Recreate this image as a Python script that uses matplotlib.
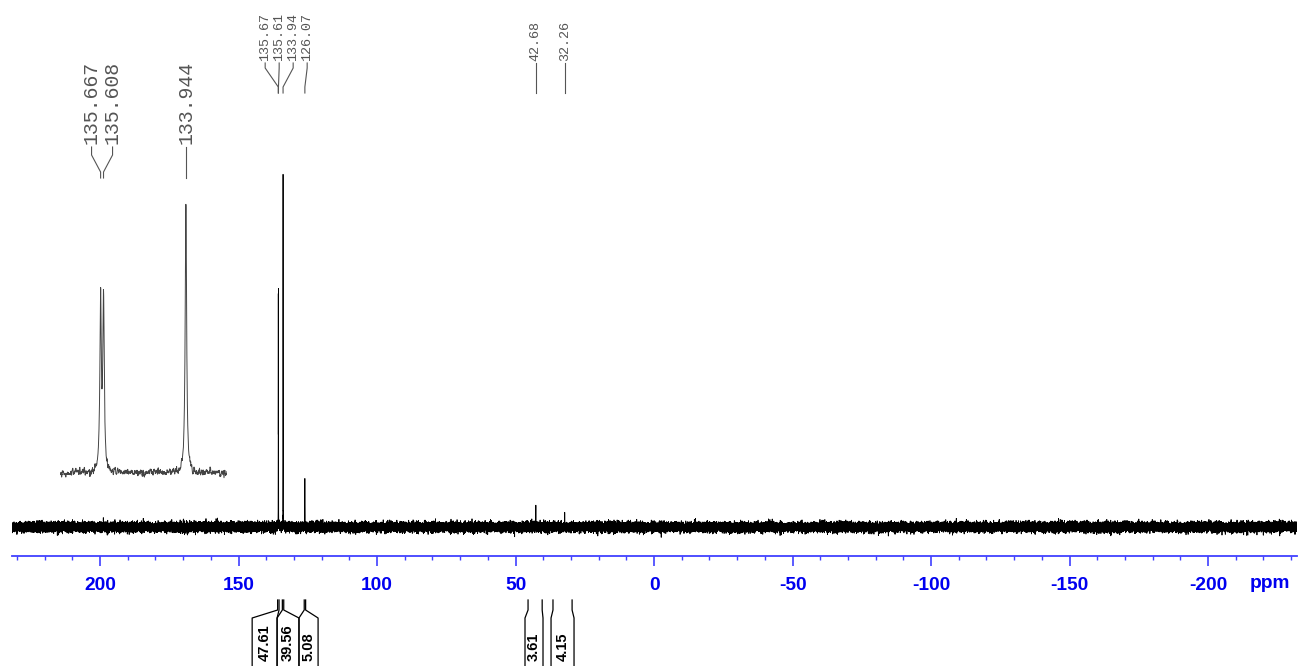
import numpy as np
import matplotlib.pyplot as plt
from matplotlib.ticker import MultipleLocator

plt.rcParams['axes.unicode_minus'] = False

# Пики: положение (ppm) и относительная интенсивность
peak_ppm = [135.667, 135.608, 133.944, 126.07, 42.68, 32.26]
peak_int = [0.63, 0.63, 1.0, 0.145, 0.056, 0.048]
peak_fwhm = 0.03

# Подписи пиков
top_ppm = [135.667, 135.608, 133.944, 126.07]
top_labels = ['135.67', '135.61', '133.94', '126.07']
side_ppm = [42.68, 32.26]
side_labels = ['42.68', '32.26']
doublet_ppm = [135.667, 135.608]
doublet_labels = ['135.667', '135.608']
single_ppm = [133.944]
single_labels = ['133.944']

# Интегралы (области в ppm)
int_labels = ['47.61', '39.56', '5.08', '3.61', '4.15']
int_regions = [(135.9, 135.4), (134.2, 133.7), (126.3, 125.8), (45.5, 40.4), (36.5, 29.6)]
int_boxes = [(145.1, 136.1), (136.1, 128.2), (128.2, 121.3), (46.6, 40.1), (37.2, 28.9)]

# Оси
tick_vals = [200, 150, 100, 50, 0, -50, -100, -150, -200]
x_left, x_right = 231.8, -232.1
inset_left, inset_right = 136.487, 133.114

W, H = 1301, 666
blue_line = '#4040ff'
blue_text = '#0000f0'
gray = '#555555'


def lorentz(x, x0, w):
    return 1.0 / (1.0 + ((x - x0) / (w / 2)) ** 2)


rng = np.random.default_rng(7)

# Основной спектр
x = np.linspace(x_left, x_right, 65536)
spec = sum(h * lorentz(x, p, peak_fwhm) for p, h in zip(peak_ppm, peak_int))
y = spec * 354 + rng.normal(0, 2.3, x.size)

fig = plt.figure(figsize=(W / 100, H / 100), dpi=100)
fig.patch.set_facecolor('white')

ax = fig.add_axes([12 / W, 1 - 555.5 / H, (1297 - 12) / W, 555.5 / H])
ax.plot(x, y, color='black', linewidth=0.6)
ax.set_xlim(x_left, x_right)
ax.set_ylim(-28.5, 527)
for s in ['top', 'left', 'right']:
    ax.spines[s].set_visible(False)
ax.spines['bottom'].set_color(blue_line)
ax.spines['bottom'].set_linewidth(1.3)
ax.set_yticks([])
ax.set_xticks(tick_vals)
ax.set_xticklabels([str(v) for v in tick_vals], fontweight='bold',
                   family='Liberation Sans')
ax.xaxis.set_minor_locator(MultipleLocator(10))
ax.tick_params(axis='x', which='major', length=7.5, width=1.2, color=blue_line,
               pad=8, labelsize=13.8, labelcolor=blue_text)
ax.tick_params(axis='x', which='minor', length=3, width=1.0, color=blue_line)

# Вставка (увеличенный участок)
xi = np.arange(inset_left, inset_right, -0.0025)
noise_i = np.convolve(rng.normal(0, 4.0, xi.size), np.ones(6) / 6, mode='same')
spec_i = sum(h * lorentz(xi, p, 0.034) for p, h in zip(peak_ppm, peak_int))
yi = spec_i * 272 + noise_i

ins = fig.add_axes([60 / W, 1 - 490 / H, (227 - 60) / W, (490 - 180) / H])
ins.plot(xi, yi, color='#444444', linewidth=0.7)
ins.set_xlim(inset_left, inset_right)
ins.set_ylim(-17, 293)
ins.axis('off')

# Слой для подписей в пикселях
ov = fig.add_axes([0, 0, 1, 1])
ov.set_xlim(0, W)
ov.set_ylim(H, 0)
ov.axis('off')
ov.patch.set_alpha(0)


def px(a, v):
    return a.transData.transform((v, 0))[0]


def label_group(a, ppms, texts, ys, step, size):
    y_text, y0, y1, y2, y3 = ys
    pks = [px(a, p) for p in ppms]
    n = len(pks)
    xs = np.mean(pks) + (np.arange(n) - (n - 1) / 2) * step
    for xt, xp, t in zip(xs, pks, texts):
        ov.text(xt, y_text, t, rotation=90, ha='center', va='bottom',
                fontsize=size, family='Liberation Mono', color=gray)
        ov.plot([xt, xt, xp, xp], [y0, y1, y2, y3], color=gray, linewidth=0.8)


label_group(ax, top_ppm, top_labels, (61, 63, 68, 87, 93), 14, 9.6)
for p, t in zip(side_ppm, side_labels):
    label_group(ax, [p], [t], (61, 63, 68, 87, 93), 14, 9.6)
label_group(ins, doublet_ppm, doublet_labels, (144, 147, 155, 172, 178), 21, 14.3)
label_group(ins, single_ppm, single_labels, (144, 147, 155, 172, 178), 21, 14.3)

# Интегралы
for t, (r0, r1), (b0, b1) in zip(int_labels, int_regions, int_boxes):
    xr0, xr1 = px(ax, r0), px(ax, r1)
    xb0, xb1 = px(ax, b0), px(ax, b1)
    ov.plot([xr0, xr0, xb0, xb0], [600, 610, 618, 666], color='black', linewidth=0.9)
    ov.plot([xr1, xr1, xb1, xb1], [600, 610, 618, 666], color='black', linewidth=0.9)
    ov.text((xb0 + xb1) / 2, 661, t, rotation=90, ha='center', va='bottom',
            fontsize=10.5, fontweight='bold', family='Liberation Sans')

ov.text(1270, 583, 'ppm', ha='center', va='center', fontsize=13.8,
        fontweight='bold', family='Liberation Sans', color=blue_text)

fig.savefig('out.png', dpi=100)
